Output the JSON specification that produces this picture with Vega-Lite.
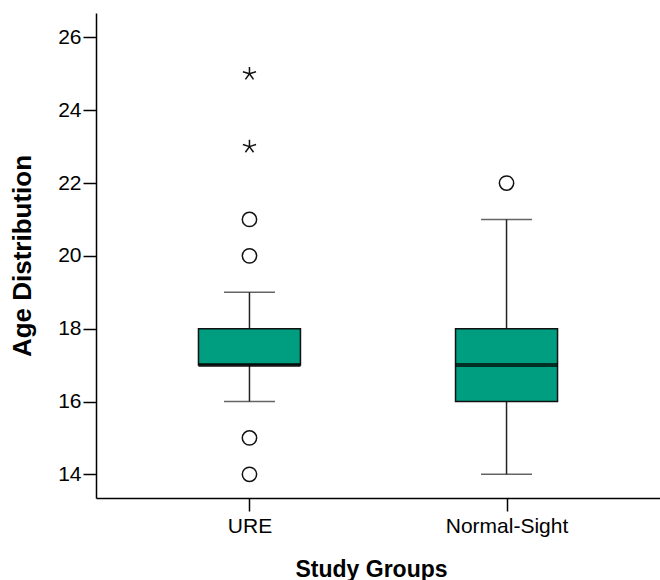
{
  "$schema": "https://vega.github.io/schema/vega-lite/v6.json",
  "width": 564,
  "height": 485,
  "autosize": {"type": "none"},
  "padding": {"left": 96, "top": 13, "right": 0, "bottom": 82},
  "background": "white",
  "datasets": {
    "boxes": [
      {"group": "URE", "lower": 16, "q1": 17, "median": 17, "q3": 18, "upper": 19},
      {"group": "Normal-Sight", "lower": 14, "q1": 16, "median": 17, "q3": 18, "upper": 21}
    ],
    "outliers": [
      {"group": "URE", "value": 25, "kind": "extreme"},
      {"group": "URE", "value": 23, "kind": "extreme"},
      {"group": "URE", "value": 21, "kind": "outlier"},
      {"group": "URE", "value": 20, "kind": "outlier"},
      {"group": "URE", "value": 15, "kind": "outlier"},
      {"group": "URE", "value": 14, "kind": "outlier"},
      {"group": "Normal-Sight", "value": 22, "kind": "outlier"}
    ]
  },
  "encoding": {
    "x": {
      "field": "group",
      "type": "nominal",
      "sort": ["URE", "Normal-Sight"],
      "scale": {"type": "point", "padding": 0.597},
      "axis": {"title": "Study Groups", "labelAngle": 0, "titlePadding": 22, "labelPadding": 4, "titleFontSize": 23, "titleX": 275}
    }
  },
  "layer": [
    {
      "data": {"name": "boxes"},
      "mark": {"type": "rule", "color": "#222222", "strokeWidth": 1.5},
      "encoding": {
        "y": {"field": "lower", "type": "quantitative", "title": "Age Distribution",
              "scale": {"domain": [13.35, 26.67], "nice": false, "zero": false},
              "axis": {"values": [14, 16, 18, 20, 22, 24, 26], "labelPadding": 2, "titlePadding": 22, "titleFontSize": 26}},
        "y2": {"field": "upper"}
      }
    },
    {
      "data": {"name": "boxes"},
      "mark": {"type": "tick", "orient": "horizontal", "size": 51, "thickness": 1.5, "color": "#222222"},
      "encoding": {
        "y": {"field": "lower", "type": "quantitative", "title": "Age Distribution",
              "scale": {"domain": [13.35, 26.67], "nice": false, "zero": false},
              "axis": {"values": [14, 16, 18, 20, 22, 24, 26], "labelPadding": 2, "titlePadding": 22, "titleFontSize": 26}}
      }
    },
    {
      "data": {"name": "boxes"},
      "mark": {"type": "tick", "orient": "horizontal", "size": 51, "thickness": 1.5, "color": "#222222"},
      "encoding": {
        "y": {"field": "upper", "type": "quantitative", "title": "Age Distribution",
              "scale": {"domain": [13.35, 26.67], "nice": false, "zero": false},
              "axis": {"values": [14, 16, 18, 20, 22, 24, 26], "labelPadding": 2, "titlePadding": 22, "titleFontSize": 26}}
      }
    },
    {
      "data": {"name": "boxes"},
      "mark": {"type": "bar", "size": 102, "fill": "#009E80", "stroke": "#111111", "strokeWidth": 1.5},
      "encoding": {
        "y": {"field": "q1", "type": "quantitative", "title": "Age Distribution",
              "scale": {"domain": [13.35, 26.67], "nice": false, "zero": false},
              "axis": {"values": [14, 16, 18, 20, 22, 24, 26], "labelPadding": 2, "titlePadding": 22, "titleFontSize": 26}},
        "y2": {"field": "q3"}
      }
    },
    {
      "data": {"name": "boxes"},
      "mark": {"type": "tick", "orient": "horizontal", "size": 102, "thickness": 4, "color": "#000000"},
      "encoding": {
        "y": {"field": "median", "type": "quantitative", "title": "Age Distribution",
              "scale": {"domain": [13.35, 26.67], "nice": false, "zero": false},
              "axis": {"values": [14, 16, 18, 20, 22, 24, 26], "labelPadding": 2, "titlePadding": 22, "titleFontSize": 26}}
      }
    },
    {
      "data": {"name": "outliers"},
      "mark": {"type": "point", "filled": false, "stroke": "#111111", "strokeWidth": 1.5, "opacity": 1},
      "encoding": {
        "y": {"field": "value", "type": "quantitative", "title": "Age Distribution",
              "scale": {"domain": [13.35, 26.67], "nice": false, "zero": false},
              "axis": {"values": [14, 16, 18, 20, 22, 24, 26], "labelPadding": 2, "titlePadding": 22, "titleFontSize": 26}},
        "shape": {
          "field": "kind",
          "type": "nominal",
          "scale": {"domain": ["outlier", "extreme"], "range": ["circle", "M0,0L0,-1M0,0L0.951,-0.309M0,0L0.588,0.809M0,0L-0.588,0.809M0,0L-0.951,-0.309"]},
          "legend": null
        },
        "size": {
          "field": "kind",
          "type": "nominal",
          "scale": {"domain": ["outlier", "extreme"], "range": [205, 190]},
          "legend": null
        }
      }
    }
  ],
  "config": {
    "view": {"stroke": null},
    "font": "Liberation Sans",
    "axis": {
      "grid": false,
      "domainColor": "#000000",
      "domainWidth": 1.5,
      "tickColor": "#000000",
      "tickWidth": 1.5,
      "tickSize": 13,
      "labelColor": "#000000",
      "labelFont": "Liberation Sans",
      "labelFontSize": 21,
      "titleColor": "#000000",
      "titleFont": "Liberation Sans",
      "titleFontWeight": "bold"
    }
  }
}
